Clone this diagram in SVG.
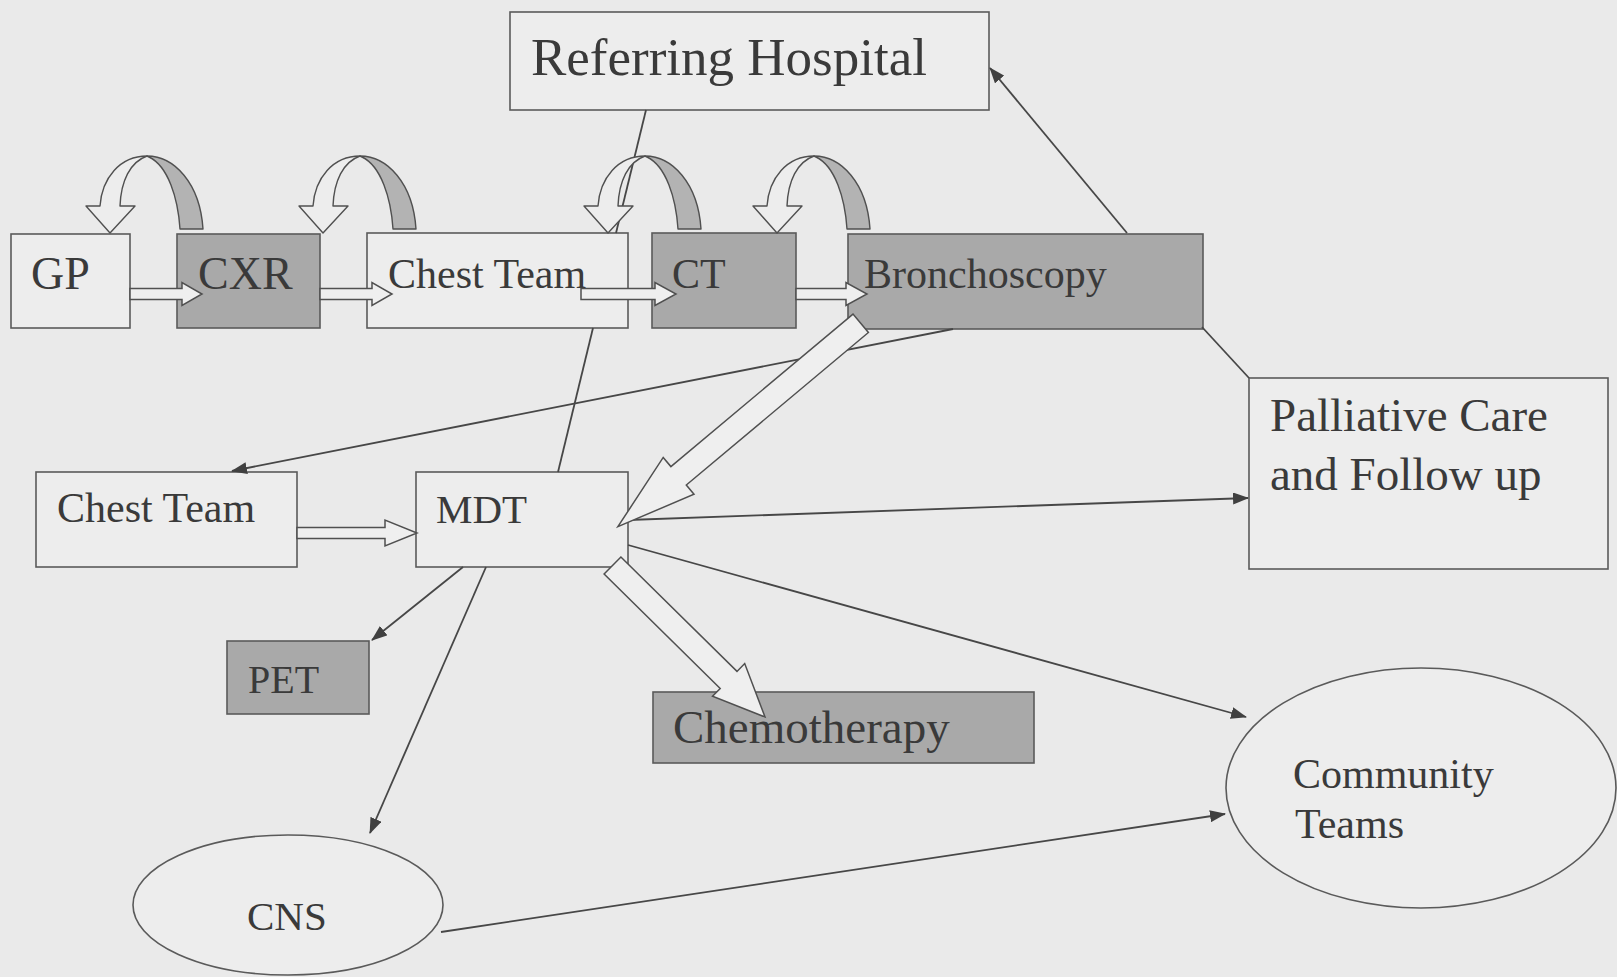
<svg xmlns="http://www.w3.org/2000/svg" xmlns:xlink="http://www.w3.org/1999/xlink" width="1617" height="977" viewBox="0 0 1617 977">
  <style>
    .bg{fill:#eaeaea}
    .box{stroke:#5a5a5a;stroke-width:1.6}
    .light{fill:#ededed}
    .dark{fill:#a9a9a9}
    .lbl{font-family:"Liberation Serif","Times New Roman",serif;fill:#3a3a3a}
    .ln{stroke:#474747;stroke-width:1.8;fill:none}
    .blk{fill:#efefef;stroke:#505050;stroke-width:1.5;stroke-linejoin:miter}
    .front{fill:#ededed;stroke:#505050;stroke-width:1.4;stroke-linejoin:round}
    .back{fill:#b3b3b3;stroke:#505050;stroke-width:1.4;stroke-linejoin:round}
  </style>
  <defs>
    <marker id="ah" viewBox="0 0 16 12" refX="15" refY="6" markerWidth="16" markerHeight="12" markerUnits="userSpaceOnUse" orient="auto">
      <path d="M0,0 L16,6 L0,12 Z" fill="#404040"/>
    </marker>
    <!-- curved return arrow: tip at origin, tail on the right -->
    <g id="loop">
      <path class="back" d="M37,-77 C64,-77 90,-50 93,-4 L70,-4 C68,-35 58,-67 39,-76 Z"/>
      <path class="front" d="M10,-27 L25,-27 L0,0 L-24,-27 L-10,-27 C-8,-55 10,-77 37,-77 C20,-71 11,-52 10,-27 Z"/>
    </g>
  </defs>

  <rect class="bg" x="0" y="0" width="1617" height="977"/>

  <!-- nodes -->
  <g id="referring-hospital">
    <rect class="box light" x="510" y="12" width="479" height="98"/>
    <text class="lbl" x="531" y="75" font-size="53">Referring Hospital</text>
  </g>
  <g id="gp">
    <rect class="box light" x="11" y="234" width="119" height="94"/>
    <text class="lbl" x="31" y="289" font-size="46">GP</text>
  </g>
  <g id="cxr">
    <rect class="box dark" x="177" y="234" width="143" height="94"/>
    <text class="lbl" x="198" y="289" font-size="46">CXR</text>
  </g>
  <g id="chest-team-1">
    <rect class="box light" x="367" y="233" width="261" height="95"/>
    <text class="lbl" x="388" y="288" font-size="42">Chest Team</text>
  </g>
  <g id="ct">
    <rect class="box dark" x="652" y="233" width="144" height="95"/>
    <text class="lbl" x="672" y="288" font-size="42">CT</text>
  </g>
  <g id="bronchoscopy">
    <rect class="box dark" x="848" y="234" width="355" height="95"/>
    <text class="lbl" x="864" y="288" font-size="42">Bronchoscopy</text>
  </g>
  <g id="chest-team-2">
    <rect class="box light" x="36" y="472" width="261" height="95"/>
    <text class="lbl" x="57" y="522" font-size="42">Chest Team</text>
  </g>
  <g id="mdt">
    <rect class="box light" x="416" y="472" width="212" height="95"/>
    <text class="lbl" x="436" y="523" font-size="41">MDT</text>
  </g>
  <g id="pet">
    <rect class="box dark" x="227" y="641" width="142" height="73"/>
    <text class="lbl" x="248" y="693" font-size="40">PET</text>
  </g>
  <g id="chemotherapy">
    <rect class="box dark" x="653" y="692" width="381" height="71"/>
    <text class="lbl" x="673" y="743" font-size="47">Chemotherapy</text>
  </g>
  <g id="palliative-care">
    <rect class="box light" x="1249" y="378" width="359" height="191"/>
    <text class="lbl" x="1270" y="431" font-size="47">Palliative Care</text>
    <text class="lbl" x="1270" y="490" font-size="47">and Follow up</text>
  </g>
  <g id="community-teams">
    <ellipse class="box light" cx="1421" cy="788" rx="195" ry="120"/>
    <text class="lbl" x="1293" y="788" font-size="42">Community</text>
    <text class="lbl" x="1295" y="838" font-size="42">Teams</text>
  </g>
  <g id="cns">
    <ellipse class="box light" cx="288" cy="905" rx="155" ry="70"/>
    <text class="lbl" x="247" y="930" font-size="41">CNS</text>
  </g>

  <!-- connectors -->
  <g id="connectors">
    <!-- plain links -->
    <path class="ln" d="M646,110 L616,233"/>
    <path class="ln" d="M593,328 L558,472"/>
    <path class="ln" d="M1202,327 L1249,378"/>
    <!-- arrowed links -->
    <path class="ln" marker-end="url(#ah)" d="M1127,233 L990,68"/>
    <path class="ln" marker-end="url(#ah)" d="M953,329 L232,471"/>
    <path class="ln" marker-end="url(#ah)" d="M463,567 L372,640"/>
    <path class="ln" marker-end="url(#ah)" d="M486,567 L370,833"/>
    <path class="ln" marker-end="url(#ah)" d="M628,520 L1248,498"/>
    <path class="ln" marker-end="url(#ah)" d="M628,545 L1246,717"/>
    <path class="ln" marker-end="url(#ah)" d="M441,932 L1225,814"/>

    <!-- straight block arrows -->
    <polygon class="blk" points="130,288.5 182,288.5 182,282.5 202,294 182,305.5 182,299.5 130,299.5"/>
    <polygon class="blk" points="320,288.5 372,288.5 372,282.5 392,294 372,305.5 372,299.5 320,299.5"/>
    <polygon class="blk" points="581,288.5 655,288.5 655,282.5 676,294 655,305.5 655,299.5 581,299.5"/>
    <polygon class="blk" points="796,288.5 846,288.5 846,282.5 867,294 846,305.5 846,299.5 796,299.5"/>
    <polygon class="blk" points="297,527.5 385,527.5 385,520 417,533 385,546 385,538.5 297,538.5"/>
    <polygon class="blk" points="853,314.1 670.9,466.6 663.2,457.4 617.9,526.7 694,494.2 686.3,485 868.4,332.5"/>
    <polygon class="blk" points="620.9,557 737,671.4 744.7,663.5 765,717 712.5,696.3 720.2,688.4 604.1,574"/>

    <!-- curved return arrows -->
    <use xlink:href="#loop" x="110" y="233"/>
    <use xlink:href="#loop" x="323" y="233"/>
    <use xlink:href="#loop" x="608" y="233"/>
    <use xlink:href="#loop" x="777" y="233"/>
  </g>
</svg>
